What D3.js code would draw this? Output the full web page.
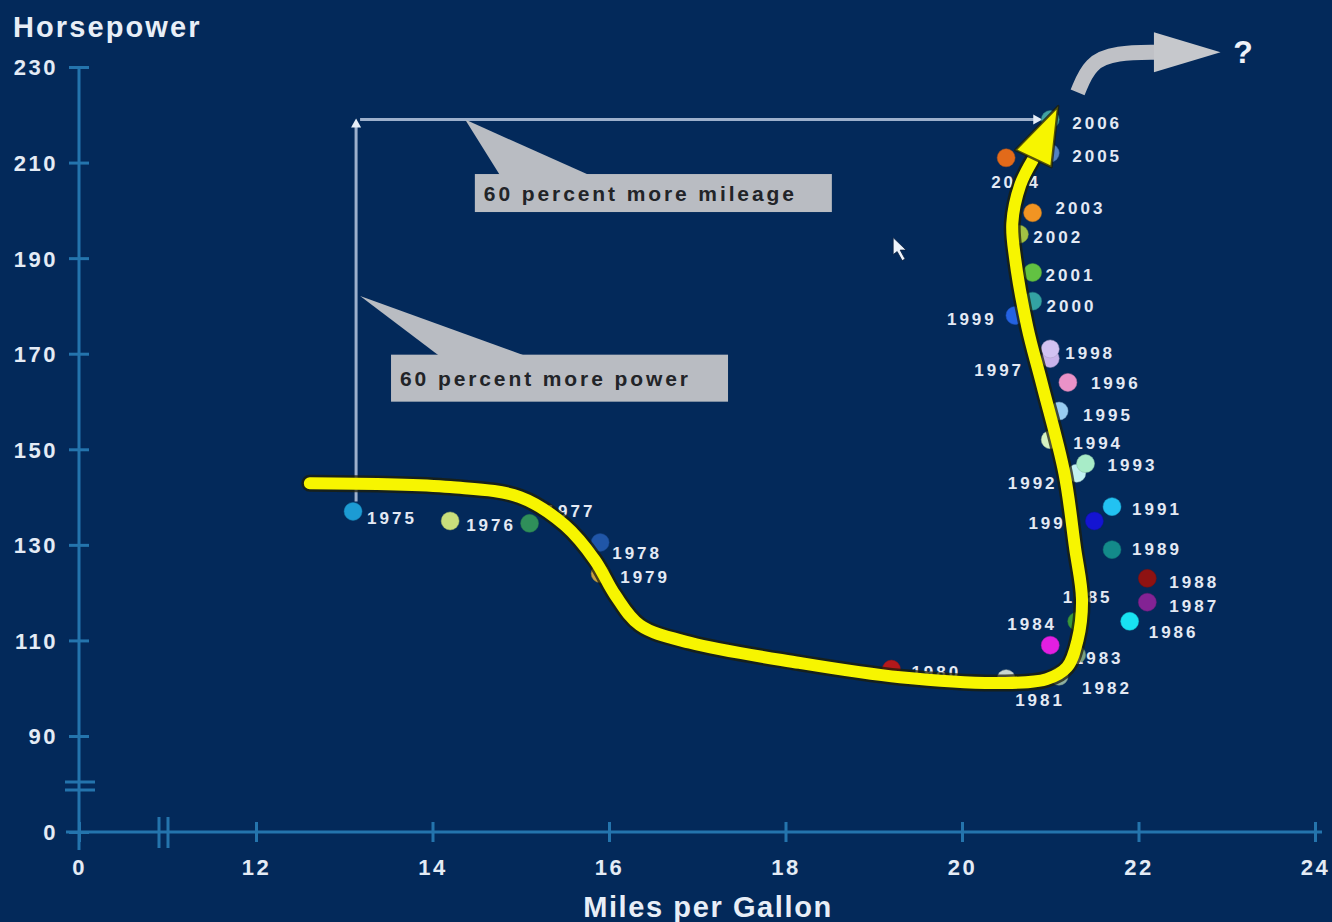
<!DOCTYPE html>
<html>
<head>
<meta charset="utf-8">
<script src="https://cdn.jsdelivr.net/npm/d3@7"></script>
<style>
  html, body { margin: 0; padding: 0; background: #03295a; }
  svg { display: block; }
  text { font-family: "Liberation Sans", Arial, sans-serif; }
</style>
</head>
<body>
<svg id="chart" width="1332" height="922"></svg>
<script>
// ---------------- DATA ----------------
const years = [1975,1976,1977,1978,1979,1980,1981,1982,1983,1984,1985,1986,1987,1988,1989,1990,
               1991,1992,1993,1994,1995,1996,1997,1998,1999,2000,2001,2002,2003,2004,2005,2006];
const mpg   = [13.1,14.2,15.1,15.9,15.9,19.2,20.5,21.1,21.3,21.0,21.3,21.9,22.1,22.1,21.7,21.5,
               21.7,21.3,21.4,21.0,21.1,21.2,21.0,21.0,20.6,20.8,20.8,20.65,20.8,20.5,21.0,21.0];
const hp    = [137,135,134.5,130.5,124,104,102,102.5,107,109,114,114,118,123,129,135,
               138,145,147,152,158,164,169,171,178,181,187,195,199.5,211,212,219];
const xTicks = [0,12,14,16,18,20,22,24];
const yTicks = [0,90,110,130,150,170,190,210,230];
const xTitle = "Miles per Gallon";
const yTitle = "Horsepower";
const noteMileage = "60 percent more mileage";
const notePower = "60 percent more power";
// hand-drawn trend stroke, in (mpg, hp)
const trendMpg = [12.61,14.20,14.99,15.50,15.84,16.07,16.35,16.92,18.16,19.30,20.43,20.96,21.19,21.31,21.36,21.28,21.16,20.91,20.74,20.60,20.57,20.66,20.80];
const trendHp  = [142.9,142.1,140.0,134.1,126.8,119.5,113.2,109.5,105.3,102.3,101.1,101.9,104.4,110.1,118.5,129.5,145.0,163.4,175.6,190.2,197.3,205.3,210.5];
const trendTip = [21.09, 221.8];
// grey "what next" arrow, in (mpg, hp)
const nextMpg = [21.31, 21.45, 21.75, 22.22];
const nextHp  = [224.7, 231.0, 233.0, 233.1];
const nextTip = [22.93, 233.1];

// ---------------- STYLE ----------------
const dotColors = ["#1c9bd4","#c9de7c","#2f8f5a","#2056a8","#c8a040","#b3191c","#c7d6d2","#8fb0a0",
                   "#7aa080","#e21fe2","#3a9a3a","#18e2f2","#832394","#8e1212","#138a8a","#1414d2",
                   "#22c2f2","#c2f2f2","#a8ecc8","#d6f2c2","#98ccf2","#ea92c8","#c8b2ea","#d2c2f2",
                   "#2462e2","#33a3a3","#62c242","#a2c244","#f29422","#e26a1a","#5282c2","#42a2a2"];
// label offsets (dx, dy) relative to each dot
const labelOff = [[14,6],[16,4],[16,-12],[12,10],[20,3],[20,3],[9,21],[23,12],[-3,3],[-43,-21],[-14,-24],
  [19,11],[22,4],[22,4],[20,-1],[-66,2],[20,2],[-69,10],[22,1],[23,3],[24,4],[23,0],[-76,11],[15,4],
  [-68,3],[14,5],[13,2],[14,3],[23,-5],[-15,24],[22,3],[22,3]];

const svg = d3.select("#chart");
const axisColor = "#2474ad";
const x = d3.scaleLinear().domain([0, 12, 24]).range([79, 256, 1315]);
const y = d3.scaleLinear().domain([0, 90, 230]).range([832, 736, 67]);

// ---------- axes ----------
svg.append("line").attr("x1", 79).attr("x2", 79).attr("y1", y(230)).attr("y2", 850)
  .attr("stroke", axisColor).attr("stroke-width", 3);
svg.append("line").attr("x1", 66).attr("x2", 1322).attr("y1", y(0)).attr("y2", y(0))
  .attr("stroke", axisColor).attr("stroke-width", 3);

const yAxis = svg.append("g").attr("transform", "translate(79,0)")
  .call(d3.axisLeft(y).tickValues(yTicks).tickSize(0).tickPadding(21).tickFormat(d3.format("d")));
yAxis.select(".domain").remove();
yAxis.selectAll(".tick line").attr("x1", -10).attr("x2", 10).attr("stroke", axisColor).attr("stroke-width", 3);
yAxis.selectAll(".tick text").attr("fill", "#e4ebf5").attr("font-size", 22).attr("font-weight", "bold")
  .attr("letter-spacing", 2.5).attr("dy", "0.36em");

const xAxis = svg.append("g").attr("transform", `translate(0,${y(0)})`)
  .call(d3.axisBottom(x).tickValues(xTicks).tickSize(0).tickPadding(27).tickFormat(d3.format("d")));
xAxis.select(".domain").remove();
xAxis.selectAll(".tick line").attr("y1", -10).attr("y2", 10).attr("stroke", axisColor).attr("stroke-width", 3);
xAxis.selectAll(".tick text").attr("fill", "#e4ebf5").attr("font-size", 22).attr("font-weight", "bold")
  .attr("letter-spacing", 2.5);

// axis breaks
[782, 790].forEach(v => svg.append("line").attr("x1", 65).attr("x2", 95).attr("y1", v).attr("y2", v)
  .attr("stroke", axisColor).attr("stroke-width", 3));
[159, 168].forEach(v => svg.append("line").attr("x1", v).attr("x2", v).attr("y1", 817).attr("y2", 848)
  .attr("stroke", axisColor).attr("stroke-width", 3));

// titles
svg.append("text").attr("x", 13).attr("y", 37).text(yTitle).attr("fill", "#e8eef7")
  .attr("font-size", 29).attr("font-weight", "bold").attr("letter-spacing", 2.1);
svg.append("text").attr("x", 708).attr("y", 917).attr("text-anchor", "middle").text(xTitle)
  .attr("fill", "#e8eef7").attr("font-size", 29).attr("font-weight", "bold").attr("letter-spacing", 1.6);

// ---------- grey guide lines ----------
const guide = "#9db0cc";
const gx0 = x(mpg[0]) + 3, gy1 = y(hp[hp.length - 1]);
svg.append("line").attr("x1", gx0).attr("x2", gx0).attr("y1", y(hp[0]) - 10).attr("y2", gy1 + 4)
  .attr("stroke", guide).attr("stroke-width", 3);
svg.append("path").attr("d", `M${gx0},${gy1 - 1} l-5,9 l10,0 z`).attr("fill", "#e6edf7");
svg.append("line").attr("x1", gx0 + 4).attr("x2", x(mpg[mpg.length - 1]) - 12).attr("y1", gy1).attr("y2", gy1)
  .attr("stroke", guide).attr("stroke-width", 3);
svg.append("path").attr("d", `M${x(mpg[mpg.length - 1]) - 8},${gy1} l-9,-5 l0,10 z`).attr("fill", "#e6edf7");

// ---------- callouts ----------
function callout(bx, by, bw, bh, tip, base0, base1, label) {
  const g = svg.append("g");
  g.append("path").attr("d", `M${tip[0]},${tip[1]} L${base0},${by + 2} L${base1},${by + 2} Z`).attr("fill", "#b9bcc2");
  g.append("rect").attr("x", bx).attr("y", by).attr("width", bw).attr("height", bh).attr("fill", "#b9bcc2");
  g.append("text").attr("x", bx + 9).attr("y", by + bh / 2).attr("dy", "0.36em").text(label)
    .attr("fill", "#222428").attr("font-size", 21).attr("font-weight", "bold").attr("letter-spacing", 2.9);
}
callout(x(14.48), y(207.6), 357, 38, [x(14.37), y(219)], x(14.77), x(15.8), noteMileage);
callout(x(13.53), y(169.8), 337, 47, [x(13.18), y(182.1)], x(14.09), x(15.08), notePower);

// cursor artifact
const cx = x(19.22), cy = y(194.3);
svg.append("path").attr("d", `M${cx},${cy} l0,17 l4,-3 l5,9 l3,-1.5 l-5,-9 l6,0 z`)
  .attr("fill", "#eef3fb").attr("stroke", "#0a1f3f").attr("stroke-width", 0.8);

// ---------- dots & labels ----------
const pts = years.map((yr, i) => ({ yr, m: mpg[i], h: hp[i], c: dotColors[i], o: labelOff[i] }));
svg.append("g").selectAll("circle").data(pts).join("circle")
  .attr("cx", d => x(d.m)).attr("cy", d => y(d.h)).attr("r", 9)
  .attr("fill", d => d.c).attr("stroke", d => d3.color(d.c).darker(0.6)).attr("stroke-width", 1).attr("stroke-opacity", 0.5);
svg.append("g").selectAll("text").data(pts).join("text")
  .attr("x", d => x(d.m) + d.o[0]).attr("y", d => y(d.h) + d.o[1]).attr("dy", "0.36em")
  .text(d => d.yr).attr("fill", "#e3e9f4").attr("font-size", 17).attr("font-weight", "bold")
  .attr("letter-spacing", 3);

// ---------- yellow trend stroke ----------
const tline = d3.line().x(d => x(d[0])).y(d => y(d[1])).curve(d3.curveCatmullRom.alpha(0.5));
const tpts = trendMpg.map((m, i) => [m, trendHp[i]]);
svg.append("path").attr("d", tline(tpts)).attr("fill", "none").attr("stroke", "#1d1d08")
  .attr("stroke-opacity", 0.75).attr("stroke-width", 17).attr("stroke-linecap", "round").attr("stroke-linejoin", "round");
svg.append("path").attr("d", tline(tpts)).attr("fill", "none").attr("stroke", "#f7f500")
  .attr("stroke-width", 12).attr("stroke-linecap", "round").attr("stroke-linejoin", "round");
// arrow head
{
  const tx = x(trendTip[0]), ty = y(trendTip[1]);
  const bx = x(trendMpg[trendMpg.length - 1]), by = y(trendHp[trendHp.length - 1]);
  const ang = Math.atan2(ty - by, tx - bx);
  const L = 58, W = 20;
  const cxh = tx - L * Math.cos(ang), cyh = ty - L * Math.sin(ang);
  const px = -Math.sin(ang), py = Math.cos(ang);
  const head = `M${tx},${ty} L${cxh + W * px},${cyh + W * py} L${cxh - W * px},${cyh - W * py} Z`;
  svg.append("path").attr("d", head).attr("fill", "#f7f500").attr("stroke", "#1d1d08").attr("stroke-opacity", 0.75)
    .attr("stroke-width", 2.5).attr("stroke-linejoin", "round");
}

// ---------- grey "next" arrow ----------
const nline = d3.line().x(d => x(d[0])).y(d => y(d[1])).curve(d3.curveBasis);
const npts = nextMpg.map((m, i) => [m, nextHp[i]]);
svg.append("path").attr("d", nline(npts)).attr("fill", "none").attr("stroke", "#bfc1c6").attr("stroke-width", 15);
{
  const tx = x(nextTip[0]), ty = y(nextTip[1]);
  const bx = x(nextMpg[nextMpg.length - 1]) - 4, by = y(nextHp[nextHp.length - 1]);
  svg.append("path").attr("d", `M${tx},${ty} L${bx},${by - 20} L${bx},${by + 20} Z`).attr("fill", "#c6c8cc");
}
svg.append("text").attr("x", 1243).attr("y", 63).attr("text-anchor", "middle").text("?")
  .attr("fill", "#eef2fa").attr("font-size", 32).attr("font-weight", "bold");
</script>
</body>
</html>
